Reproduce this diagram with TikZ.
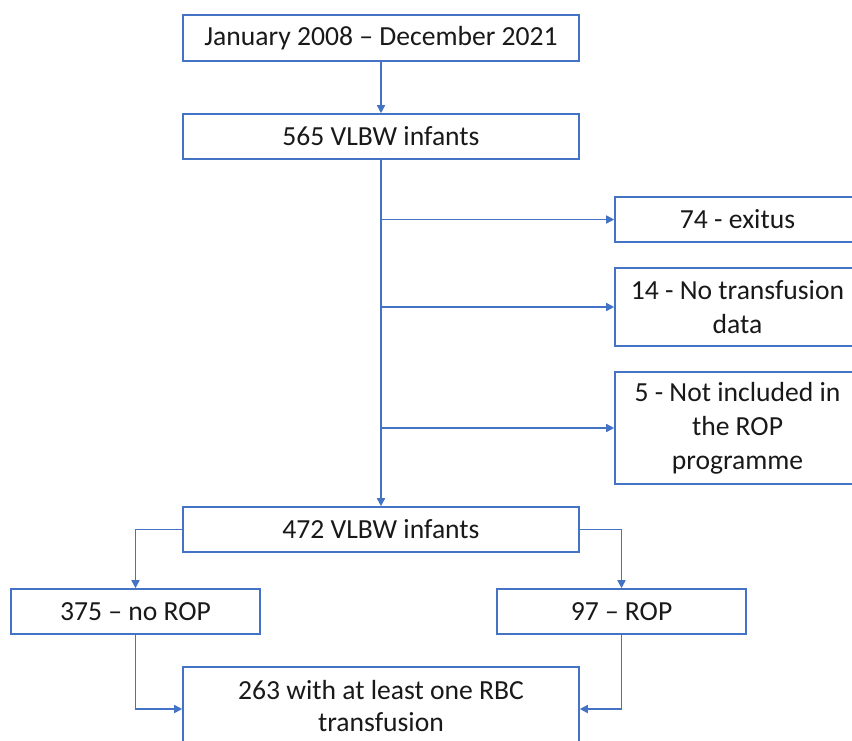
\documentclass[tikz,border=0pt]{standalone}
\usepackage{fontspec}
\setmainfont{Carlito}
\usetikzlibrary{arrows.meta}
\definecolor{lineblue}{HTML}{4472C4}
\tikzset{
  box/.style={draw=lineblue, line width=1.2pt, fill=white, inner sep=0pt, align=center,
    font=\fontsize{20.7}{25.5}\selectfont, text=black!90},
  conn/.style={draw=lineblue, line width=1.2pt, -{Triangle[length=6pt,width=6pt]}}
}
\begin{document}
\begin{tikzpicture}[x=0.75pt,y=-0.75pt]
\useasboundingbox (0,0) rectangle (852,740);
\clip (0,0) rectangle (852,740);
\node[box, minimum width=297pt, minimum height=34.5pt] (b1) at (381,38) {January 2008 -- December 2021};
\node[box, minimum width=297pt, minimum height=33.75pt] (b2) at (381,136.5) {565 VLBW infants};
\node[box, minimum width=183.75pt, minimum height=33.75pt] (r1) at (737.5,219.5) {74 - exitus};
\node[box, minimum width=183.75pt, minimum height=58.5pt] (r2) at (737.5,307) {14 - No transfusion\\ data};
\node[box, minimum width=183.75pt, minimum height=84pt] (r3) at (737.5,428) {5 - Not included in\\ the ROP\\ programme};
\node[box, minimum width=297pt, minimum height=33.75pt] (b3) at (381,529.5) {472 VLBW infants};
\node[box, minimum width=186.75pt, minimum height=33.75pt] (l1) at (135.5,611.5) {375 -- no ROP};
\node[box, minimum width=186.75pt, minimum height=33.75pt] (l2) at (621.5,611.5) {97 -- ROP};
\node[box, minimum width=297pt, minimum height=63pt, align=center] (b4) at (381,709) {\raisebox{2.5pt}{\begin{tabular}{@{}c@{}}263 with at least one RBC\\[-1.5pt] transfusion\end{tabular}}};
\draw[conn] (b1.south) -- (b2.north);
\draw[conn] (b2.south) -- (b3.north);
\draw[conn] (b2.south |- r1.west) -- (r1.west);
\draw[conn] (b2.south |- r2.west) -- (r2.west);
\draw[conn] (b2.south |- r3.west) -- (r3.west);
\draw[conn] (b3.west) -| (l1.north);
\draw[conn] (b3.east) -| (l2.north);
\draw[conn] (l1.south) |- (b4.west);
\draw[conn] (l2.south) |- (b4.east);
\end{tikzpicture}
\end{document}
